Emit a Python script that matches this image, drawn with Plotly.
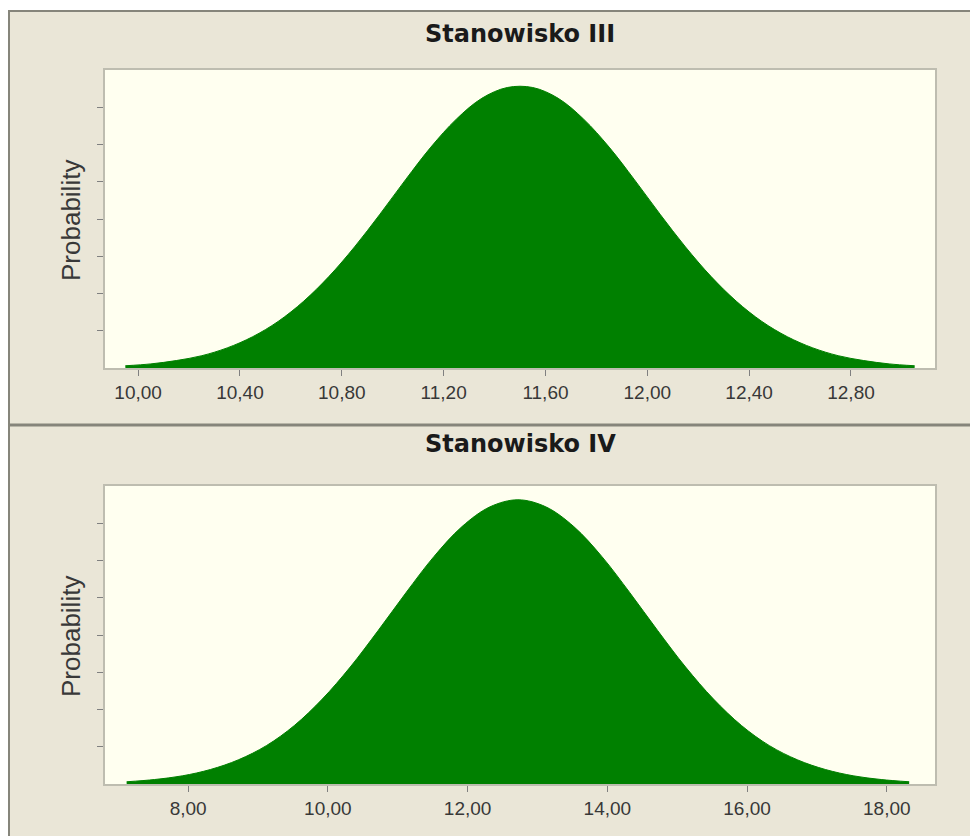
import plotly.graph_objects as go

# ---- data ----
title_top = "Stanowisko III"
title_bottom = "Stanowisko IV"
y_title = "Probability"

x_top = [9.95, 10.05, 10.15, 10.25, 10.35, 10.45, 10.55, 10.65, 10.75, 10.85,
         10.95, 11.05, 11.15, 11.25, 11.35, 11.45, 11.55, 11.65, 11.75, 11.85,
         11.95, 12.05, 12.15, 12.25, 12.35, 12.45, 12.55, 12.65, 12.75, 12.85,
         12.95, 13.05]
y_top = [0.06, 0.11, 0.20, 0.33, 0.54, 0.84, 1.25, 1.79, 2.46, 3.25,
         4.13, 5.05, 5.93, 6.68, 7.24, 7.53, 7.53, 7.24, 6.68, 5.93,
         5.05, 4.13, 3.25, 2.46, 1.79, 1.25, 0.84, 0.54, 0.33, 0.20,
         0.11, 0.06]

x_bot = [7.12, 7.52, 7.92, 8.32, 8.72, 9.12, 9.52, 9.92, 10.32, 10.72,
         11.12, 11.52, 11.92, 12.32, 12.72, 13.12, 13.52, 13.92, 14.32, 14.72,
         15.12, 15.52, 15.92, 16.32, 16.72, 17.12, 17.52, 17.92, 18.32]
y_bot = [0.06, 0.12, 0.22, 0.39, 0.65, 1.03, 1.57, 2.28, 3.14, 4.12,
         5.14, 6.11, 6.91, 7.44, 7.63, 7.44, 6.91, 6.11, 5.14, 4.12,
         3.14, 2.28, 1.57, 1.03, 0.65, 0.39, 0.22, 0.12, 0.06]

ticks_top = [10.0, 10.4, 10.8, 11.2, 11.6, 12.0, 12.4, 12.8]
ticklabels_top = ["10,00", "10,40", "10,80", "11,20", "11,60", "12,00", "12,40", "12,80"]
ticks_bot = [8, 10, 12, 14, 16, 18]
ticklabels_bot = ["8,00", "10,00", "12,00", "14,00", "16,00", "18,00"]
yticks = [1, 2, 3, 4, 5, 6, 7]

# ---- figure (page body margin puts the figure at 8,8) ----
W, H = 970, 828
def px(x):
    return x / W
def py(y):
    return 1 - y / H

GREEN = "#008000"
PANEL = "#EAE6D7"
PLOTBG = "#FFFFF0"
FRAME = "#BEBDB0"
BORDER = "#86857B"
TXT = "#383838"

fig = go.Figure()
fig.add_trace(go.Scatter(x=x_top, y=y_top, mode="lines", line=dict(color=GREEN, width=1, shape="spline"),
                         fill="tozeroy", fillcolor=GREEN, xaxis="x", yaxis="y", hoverinfo="skip"))
fig.add_trace(go.Scatter(x=x_bot, y=y_bot, mode="lines", line=dict(color=GREEN, width=1, shape="spline"),
                         fill="tozeroy", fillcolor=GREEN, xaxis="x2", yaxis="y2", hoverinfo="skip"))

ax_common = dict(showgrid=False, zeroline=False, showline=True, linecolor=FRAME, linewidth=2,
                 mirror=True, ticks="outside", ticklen=6, tickwidth=1, tickcolor="#808080",
                 tickfont=dict(family="Liberation Sans, Arial", size=19, color=TXT), fixedrange=True)

title_font = dict(family="DejaVu Sans, Verdana", size=24, color="#1a1a1a", weight="bold")

fig.update_layout(
    width=W, height=H,
    margin=dict(l=0, r=0, t=0, b=0),
    paper_bgcolor=PANEL,
    plot_bgcolor=PLOTBG,
    showlegend=False,
    xaxis=dict(domain=[px(97), px(927)], range=[9.87, 13.13], anchor="y",
               tickvals=ticks_top, ticktext=ticklabels_top, **ax_common),
    yaxis=dict(domain=[py(360), py(62)], range=[0, 8], anchor="x",
               tickvals=yticks, showticklabels=False, **ax_common),
    xaxis2=dict(domain=[px(97), px(927)], range=[6.81, 18.69], anchor="y2",
                tickvals=ticks_bot, ticktext=ticklabels_bot, **ax_common),
    yaxis2=dict(domain=[py(776), py(478)], range=[0, 8], anchor="x2",
                tickvals=yticks, showticklabels=False, **ax_common),
    shapes=[
        dict(type="rect", xref="paper", yref="paper", x0=0, x1=1, y0=py(2), y1=1,
             fillcolor="white", line=dict(width=0)),
        dict(type="line", xref="paper", yref="paper", x0=0, x1=1, y0=py(3), y1=py(3),
             line=dict(color=BORDER, width=2)),
        dict(type="line", xref="paper", yref="paper", x0=px(1), x1=px(1), y0=0, y1=py(3),
             line=dict(color=BORDER, width=2)),
        dict(type="line", xref="paper", yref="paper", x0=0, x1=1, y0=py(417), y1=py(417),
             line=dict(color=BORDER, width=3)),
    ],
    annotations=[
        dict(text=title_top, xref="paper", yref="paper", x=px(512), y=py(26), showarrow=False,
             xanchor="center", yanchor="middle", font=title_font),
        dict(text=title_bottom, xref="paper", yref="paper", x=px(512), y=py(436), showarrow=False,
             xanchor="center", yanchor="middle", font=title_font),
        dict(text=y_title, xref="paper", yref="paper", x=px(63), y=py(213), showarrow=False,
             textangle=-90, xanchor="center", yanchor="middle",
             font=dict(family="Liberation Sans, Arial", size=26, color=TXT)),
        dict(text=y_title, xref="paper", yref="paper", x=px(63), y=py(629), showarrow=False,
             textangle=-90, xanchor="center", yanchor="middle",
             font=dict(family="Liberation Sans, Arial", size=26, color=TXT)),
    ],
)

fig.write_html("out.html")
